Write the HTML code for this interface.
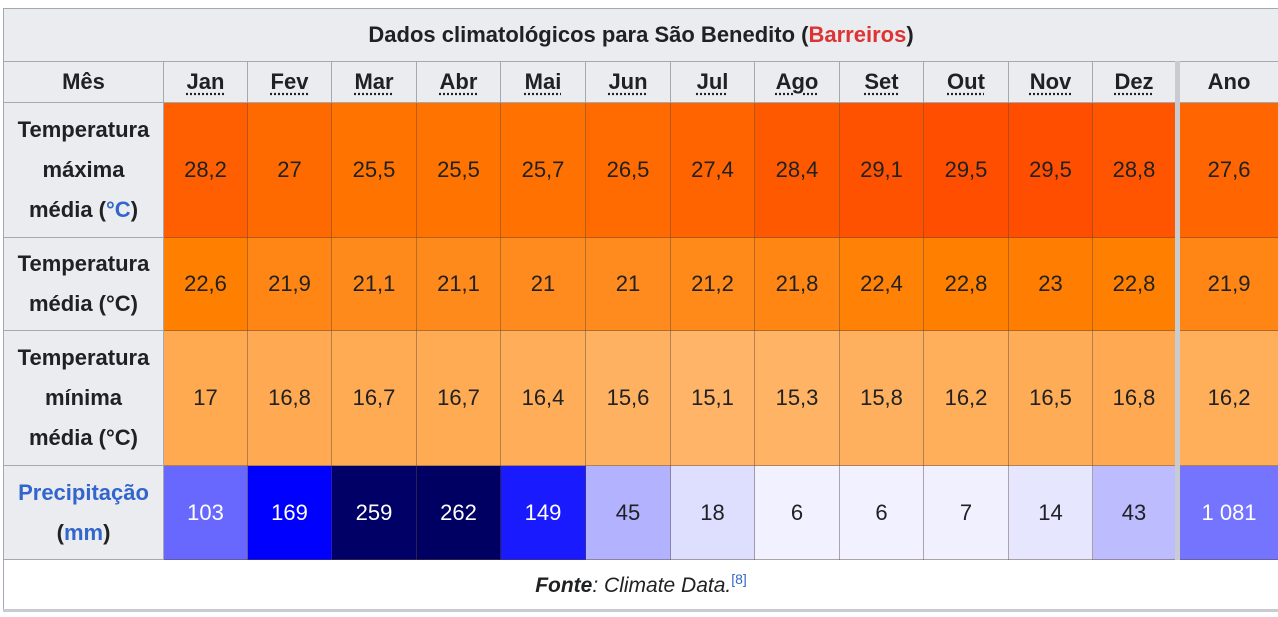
<!DOCTYPE html><html><head><meta charset="utf-8"><style>
body{margin:0;background:#fff;width:1278px;height:617px;overflow:hidden;font-family:"Liberation Sans",sans-serif;}
table{position:absolute;left:3px;top:8px;border-collapse:collapse;table-layout:fixed;width:1276px;}
td,th{border:1px solid #a2a9b1;text-align:center;font-size:22px;color:#202122;padding:0;}
td{border-color:rgba(90,70,60,0.45)}
th{background:#eaecf0;font-weight:bold;}
.t th{height:52px;font-size:22px;}
.h th{height:40px;}
.h th abbr{text-decoration:underline dotted;text-underline-offset:4px}
.r1 td,.r1 th{height:134px}
.r2 td,.r2 th{height:92px}
.r3 td,.r3 th{height:134px}
.r4 td,.r4 th{height:93px}
.r4 th{color:#3366cc}
.r4 th span{color:#202122}
.l{line-height:40px}
.w{color:#fff}
.sep{border-left:5px solid #c8ccd1}
.f td{height:49px;background:#fff;font-size:21px;border:1px solid #a2a9b1;border-bottom:3px solid #c8ccd1}
a{color:#3366cc}
</style></head><body>
<table>
<colgroup><col style="width:160px"><col style="width:84px"><col style="width:84px"><col style="width:85px"><col style="width:84px"><col style="width:85px"><col style="width:85px"><col style="width:84px"><col style="width:85px"><col style="width:84px"><col style="width:85px"><col style="width:84px"><col style="width:85px"><col style="width:101px"></colgroup>
<tr class="t"><th colspan="14">Dados climatológicos para São Benedito (<span style="color:#d33">Barreiros</span>)</th></tr>
<tr class="h"><th>Mês</th><th><abbr>Jan</abbr></th><th><abbr>Fev</abbr></th><th><abbr>Mar</abbr></th><th><abbr>Abr</abbr></th><th><abbr>Mai</abbr></th><th><abbr>Jun</abbr></th><th><abbr>Jul</abbr></th><th><abbr>Ago</abbr></th><th><abbr>Set</abbr></th><th><abbr>Out</abbr></th><th><abbr>Nov</abbr></th><th><abbr>Dez</abbr></th><th class="sep">Ano</th></tr>
<tr class="r1"><th class="l">Temperatura<br>máxima<br>média (<a>°C</a>)</th><td style="background:#ff5f00">28,2</td><td style="background:#ff6a00">27</td><td style="background:#ff7300">25,5</td><td style="background:#ff7300">25,5</td><td style="background:#ff7100">25,7</td><td style="background:#ff6b00">26,5</td><td style="background:#ff6400">27,4</td><td style="background:#ff5900">28,4</td><td style="background:#ff5200">29,1</td><td style="background:#ff4e00">29,5</td><td style="background:#ff4e00">29,5</td><td style="background:#ff5500">28,8</td><td class="sep" style="background:#ff6500">27,6</td></tr>
<tr class="r2"><th class="l">Temperatura<br>média (°C)</th><td style="background:#ff8000">22,6</td><td style="background:#ff8614">21,9</td><td style="background:#ff8a1c">21,1</td><td style="background:#ff8a1c">21,1</td><td style="background:#ff8b1e">21</td><td style="background:#ff8b1e">21</td><td style="background:#ff8a1a">21,2</td><td style="background:#ff8612">21,8</td><td style="background:#ff8206">22,4</td><td style="background:#ff7f00">22,8</td><td style="background:#ff7d00">23</td><td style="background:#ff7f00">22,8</td><td class="sep" style="background:#ff8614">21,9</td></tr>
<tr class="r3"><th class="l">Temperatura<br>mínima<br>média (°C)</th><td style="background:#ffa950">17</td><td style="background:#ffaa53">16,8</td><td style="background:#ffab54">16,7</td><td style="background:#ffab54">16,7</td><td style="background:#ffad58">16,4</td><td style="background:#ffb162">15,6</td><td style="background:#ffb468">15,1</td><td style="background:#ffb365">15,3</td><td style="background:#ffb05f">15,8</td><td style="background:#ffae5a">16,2</td><td style="background:#ffac57">16,5</td><td style="background:#ffaa53">16,8</td><td class="sep" style="background:#ffae5a">16,2</td></tr>
<tr class="r4"><th class="l">Precipitação<br><span>(</span>mm<span>)</span></th><td class="w" style="background:#6868ff">103</td><td class="w" style="background:#0000ff">169</td><td class="w" style="background:#000066">259</td><td class="w" style="background:#000063">262</td><td class="w" style="background:#1a1aff">149</td><td style="background:#b2b2ff">45</td><td style="background:#dedeff">18</td><td style="background:#f1f1ff">6</td><td style="background:#f1f1ff">6</td><td style="background:#f0f0ff">7</td><td style="background:#e6e6ff">14</td><td style="background:#bcbcff">43</td><td class="w sep" style="background:#7474ff">1 081</td></tr>
<tr class="f"><td colspan="14"><b><i>Fonte</i></b><i>: Climate Data.</i><sup style="font-size:14px;color:#3366cc">[8]</sup></td></tr>
</table>
</body></html>
